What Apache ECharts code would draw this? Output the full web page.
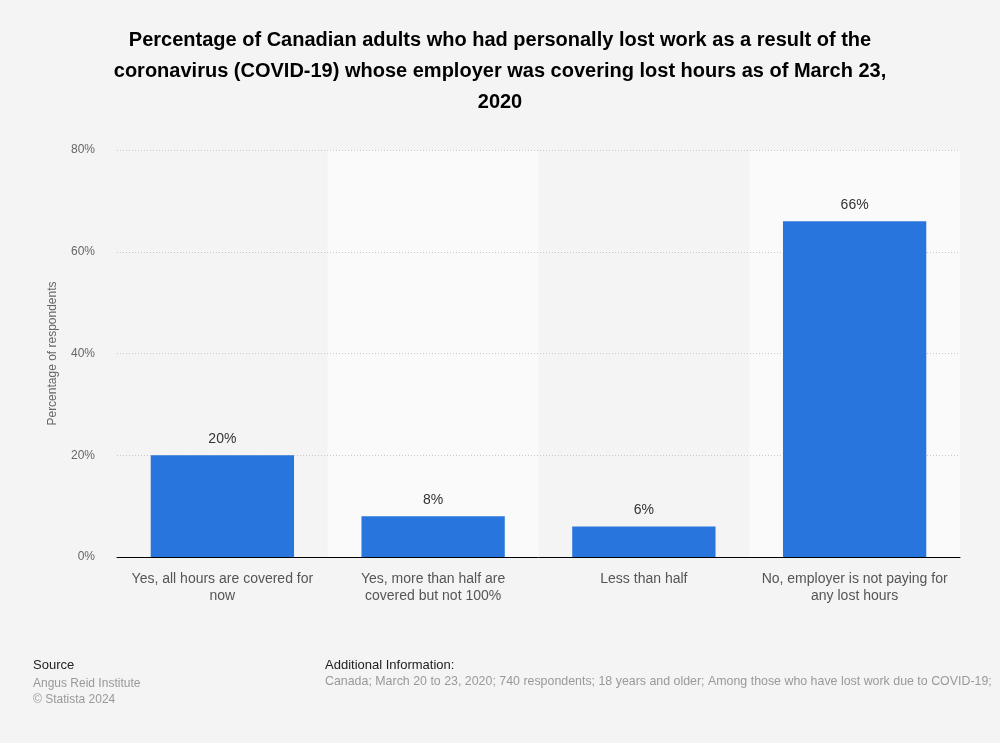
<!DOCTYPE html>
<html>
<head>
<meta charset="utf-8">
<script src="https://cdn.jsdelivr.net/npm/echarts@6/dist/echarts.min.js"></script>
<style>
html,body{margin:0;padding:0;background:#f4f4f4;}
#chart{width:1000px;height:743px;}
</style>
</head>
<body>
<div id="chart"></div>
<script>
const titleText = "Percentage of Canadian adults who had personally lost work as a result of the\ncoronavirus (COVID-19) whose employer was covering lost hours as of March 23,\n2020";
const categories = [
  "Yes, all hours are covered for\nnow",
  "Yes, more than half are\ncovered but not 100%",
  "Less than half",
  "No, employer is not paying for\nany lost hours"
];
const values = [20, 8, 6, 66];
const yTicks = { min: 0, max: 80, interval: 20 };
const yAxisName = "Percentage of respondents";
const sourceLines = ["Angus Reid Institute", "© Statista 2024"];
const additionalInfo = "Canada; March 20 to 23, 2020; 740 respondents; 18 years and older; Among those who have lost work due to COVID-19;";

const chart = echarts.init(document.getElementById('chart'), null, {renderer: 'canvas'});
const font = "'Liberation Sans', Arial, sans-serif";
chart.setOption({
  backgroundColor: '#f4f4f4',
  textStyle: { fontFamily: font },
  title: {
    text: titleText,
    left: 'center',
    top: 20,
    textStyle: { fontFamily: font, fontSize: 20, fontWeight: 'bold', color: '#000', lineHeight: 31 }
  },
  grid: { left: 117, right: 40, top: 150, bottom: 186, containLabel: false },
  xAxis: {
    type: 'category',
    z: 0,
    data: categories,
    axisLine: { show: true, lineStyle: { color: '#000', width: 1 } },
    axisTick: { show: false },
    axisLabel: { color: '#555', fontSize: 14, lineHeight: 17, margin: 14, interval: 0 },
    splitArea: { show: true, areaStyle: { color: ['rgba(0,0,0,0)', '#fafafa'] } }
  },
  yAxis: {
    type: 'value',
    z: 1,
    min: yTicks.min, max: yTicks.max, interval: yTicks.interval,
    name: yAxisName,
    nameLocation: 'middle',
    nameGap: 58,
    nameTextStyle: { color: '#666', fontSize: 12 },
    axisLine: { show: false },
    axisTick: { show: false },
    axisLabel: { color: '#666', fontSize: 12, formatter: '{value}%', margin: 22 },
    splitLine: { show: true, showMinLine: false, lineStyle: { color: '#c8c8c8', type: [1, 2], width: 1 } }
  },
  series: [{
    type: 'bar',
    z: 2,
    data: values,
    barWidth: '68%',
    itemStyle: { color: '#2876dd' },
    label: { show: true, position: 'top', formatter: '{c}%', color: '#333', fontSize: 14, distance: 9 }
  }],
  graphic: [
    { type: 'text', left: 33, top: 659, style: { text: 'Source', fill: '#222', font: '13px ' + font } },
    { type: 'text', left: 33, top: 676, style: { text: sourceLines.join('\n'), fill: '#999', font: '12px ' + font, lineHeight: 16 } },
    { type: 'text', left: 325, top: 659, style: { text: 'Additional Information:', fill: '#222', font: '13px ' + font } },
    { type: 'text', left: 325, top: 676, style: { text: additionalInfo, fill: '#999', font: '12.4px ' + font } }
  ]
});
</script>
</body>
</html>
